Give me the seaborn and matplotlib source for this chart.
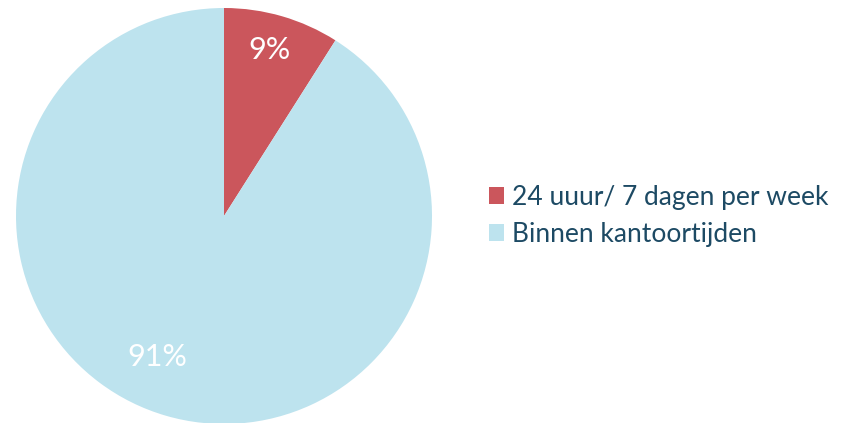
import matplotlib
matplotlib.use("Agg")
import matplotlib.pyplot as plt
import seaborn as sns

categories = ["24 uuur/ 7 dagen per week", "Binnen kantoortijden"]
values = [9, 91]
colors = ["#CB565C", "#BDE3EE"]
text_color = "#1D4A64"

sns.set_theme(style="white")
plt.rcParams["font.family"] = ["Lato", "DejaVu Sans"]

fig = plt.figure(figsize=(8.43, 4.23), dpi=100)
ax = fig.add_axes([16 / 843, -1 / 423, 416 / 843, 416 / 423])

wedges, texts, autotexts = ax.pie(
    values, colors=colors, startangle=90, counterclock=False,
    autopct="%1.0f%%", pctdistance=0.8, radius=1,
    wedgeprops=dict(linewidth=0),
    textprops=dict(color="white", fontsize=22),
)
# place percentage labels like the original
autotexts[0].set_position((0.22, 0.80))
autotexts[1].set_position((-0.32, -0.68))
ax.set_xlim(-1, 1)
ax.set_ylim(-1, 1)
ax.set_aspect("equal")

leg = fig.legend(
    wedges, categories, loc="center left", bbox_to_anchor=(478 / 843, 1 - 216 / 423),
    frameon=False, fontsize=19, handlelength=0.6, handleheight=0.6,
    handletextpad=0.3, labelspacing=0.45, borderaxespad=0,
)
for t in leg.get_texts():
    t.set_color(text_color)

fig.savefig("out.png", dpi=100)
